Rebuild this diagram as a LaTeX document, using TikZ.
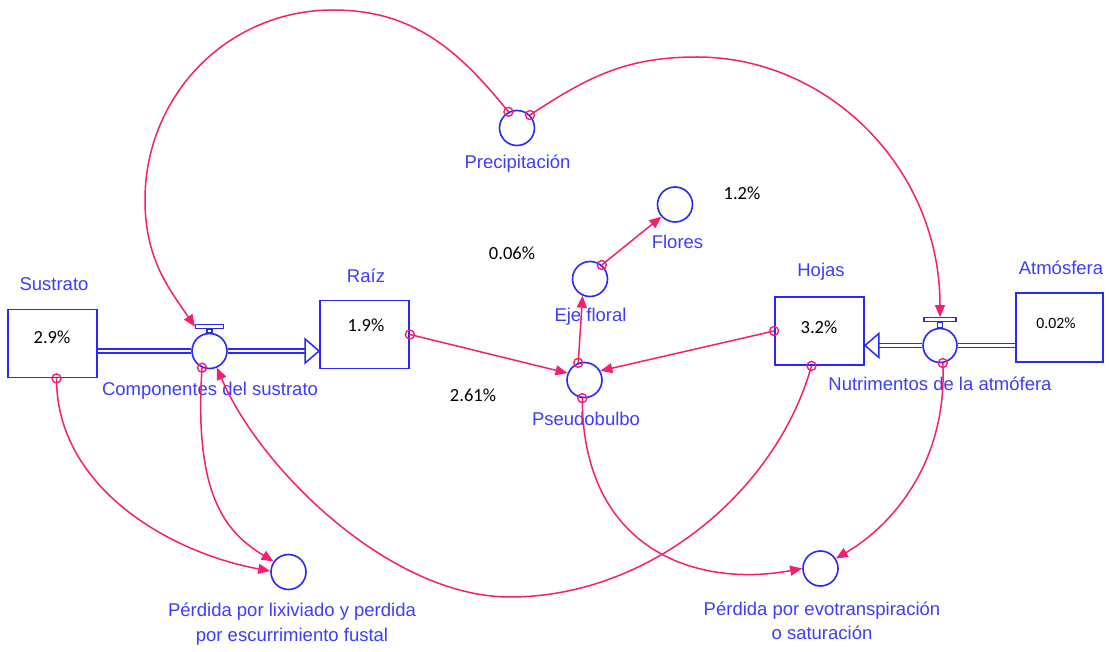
\documentclass[tikz,border=0pt]{standalone}
\usepackage{fontspec}
\setmainfont{Liberation Sans}
\newfontfamily\valfont{Carlito}
\usetikzlibrary{arrows.meta, calc}
\definecolor{vblue}{RGB}{40,40,250}
\definecolor{vlabel}{RGB}{60,60,255}
\definecolor{vpink}{RGB}{245,30,115}

\begin{document}
\begin{tikzpicture}[x=1pt, y=-1pt]
  \tikzset{
    stock/.style={draw=vblue, line width=1.8pt, fill=white, minimum width=89pt, minimum height=68pt, inner sep=0pt},
    aux/.style={circle, draw=vblue, line width=1.6pt, fill=white, minimum size=35pt, inner sep=0pt},
    valvebar/.style={draw=vblue, line width=1.2pt, fill=white, minimum height=4pt, inner sep=0pt},
    pipe/.style={draw=vblue, line width=1.4pt, double=white, double distance=2.6pt},
    flowhead/.style={draw=vblue, line width=1.5pt, fill=white, line join=miter},
    link/.style={draw=vpink, line width=1.5pt, -{Triangle[length=12pt,width=10pt]}},
    tail/.style={draw=vpink, line width=1.4pt},
    lbl/.style={text=vlabel, font=\fontsize{18.5}{24.5}\selectfont, align=center, inner sep=0pt},
    val/.style={text=black, font=\valfont\fontsize{18.5}{22}\selectfont, inner sep=0pt},
  }
  \useasboundingbox (0,0) rectangle (1109,652);

  %% stocks and their values
  \node[stock] (sus) at (52.5,343.5) {};
  \node[stock] (raiz) at (364.5,334.5) {};
  \node[stock] (hojas) at (819.5,331) {};
  \node[stock, minimum width=87pt, minimum height=69pt] (atm) at (1059.5,327.5) {};
  \node[val] (susv) at (52,337) {2.9\%};
  \node[val] (raizv) at (366,325) {1.9\%};
  \node[val] (hojasv) at (819,327) {3.2\%};
  \node[val, font=\valfont\fontsize{15.7}{18}\selectfont] (atmv) at (1056,323) {0.02\%};
  \node[lbl] (suslbl) at (54,284) {Sustrato};
  \node[lbl] (raizlbl) at (366,276) {Raíz};
  \node[lbl] (hojaslbl) at (821,272) {Hojas};
  \node[lbl] (atmlbl) at (1061,268) {Atmósfera};

  %% valves on the two flows
  \node[aux] (cs) at (209.5,351) {};
  \node[aux, minimum size=34pt] (na) at (940,345.5) {};
  \node[valvebar, minimum width=28pt] (csbar) at ($(cs.north)+(0,-6)$) {};
  \node[valvebar, minimum width=32pt] (nabar) at ($(na.north)+(0,-8)$) {};
  \draw[valvebar] ($(csbar.south)+(-2.5,0)$) rectangle ($(cs.north)+(2.5,0)$);
  \draw[valvebar] ($(nabar.south)+(-2.5,0)$) rectangle ($(na.north)+(2.5,0)$);
  \node[lbl] (cslbl) at (210,391) {Componentes del sustrato};
  \node[lbl] (nalbl) at (940,384) {Nutrimentos de la atmófera};

  %% pipes
  \draw[pipe] (sus.east |- cs) -- (cs.west);
  \draw[pipe] (cs.east) -- ($(raiz.west |- cs)+(-14,0)$);
  \draw[flowhead] (raiz.west |- cs) -- ++(-14,-12) -- ++(0,24) -- cycle;
  \draw[pipe] (atm.west |- na) -- (na.east);
  \draw[pipe] (na.west) -- ($(hojas.east |- na)+(14,0)$);
  \draw[flowhead] (hojas.east |- na) -- ++(14,-12) -- ++(0,24) -- cycle;

  %% auxiliaries
  \node[aux] (prec) at (517,128) {};
  \node[aux] (flores) at (675,204.5) {};
  \node[aux] (eje) at (590,279) {};
  \node[aux] (pseu) at (584.5,380) {};
  \node[aux] (pl) at (288.5,572) {};
  \node[aux] (pe) at (820.5,568.5) {};
  \node[lbl] (preclbl) at (517.5,164) {Precipitación};
  \node[lbl] (floreslbl) at (677.5,242) {Flores};
  \node[lbl] (ejelbl) at (590.5,317) {Eje floral};
  \node[lbl] (pseulbl) at (586,419) {Pseudobulbo};
  \node[lbl] (pllbl) at (292,624) {Pérdida por lixiviado y perdida\\por escurrimiento fustal};
  \node[lbl] (pelbl) at (822,621) {Pérdida por evotranspiración\\o saturación};
  \node[val] (florv) at (742,193) {1.2\%};
  \node[val] (ejev) at (512,253) {0.06\%};
  \node[val] (pseuv) at (473,395) {2.61\%};

  %% links
  \coordinate (susout) at ([xshift=4pt]sus.south);
  \coordinate (hojasout) at ([xshift=-8pt]hojas.south);
  \draw[link] (prec.118) .. controls +(-50,-62) and +(80,0) .. (333,10)
    .. controls +(-105,0) and +(0,-105) .. (145,200)
    .. controls +(0,60) and +(-25,-37) .. (csbar.west);
  \draw[link] (prec.45) .. controls +(59,-39) and +(-70,0) .. (697,57)
    .. controls +(130,0) and +(0,-150) .. (nabar.north);
  \draw[link] (raiz.east) -- (pseu.158);
  \draw[link] (hojas.west) -- (pseu.30);
  \draw[link] (pseu.110) -- (eje.-114);
  \draw[link] (eje.50) -- (flores.-138);
  \draw[link] (susout) .. controls +(0,110) and +(-99,-18) .. (pl.177);
  \draw[link] (cs.-114) .. controls +(-9,133) and +(-44,-27) .. (pl.145);
  \draw[link] (hojasout) .. controls +(-35,125) and +(140,0) .. (510,597)
    .. controls +(-120,0) and +(43,101) .. (cs.-66);
  \draw[link] (pseu.-97) .. controls +(0,150) and +(-108,20) .. (pe.180);
  \draw[link] (na.-81) .. controls +(5,100) and +(55,-32) .. (pe.33);
  \foreach \p in {prec.118, prec.45, raiz.east, hojas.west, pseu.110, pseu.-97, eje.50, cs.-114, na.-81, susout, hojasout}
    \draw[tail] (\p) circle[radius=4.5];
\end{tikzpicture}
\end{document}
